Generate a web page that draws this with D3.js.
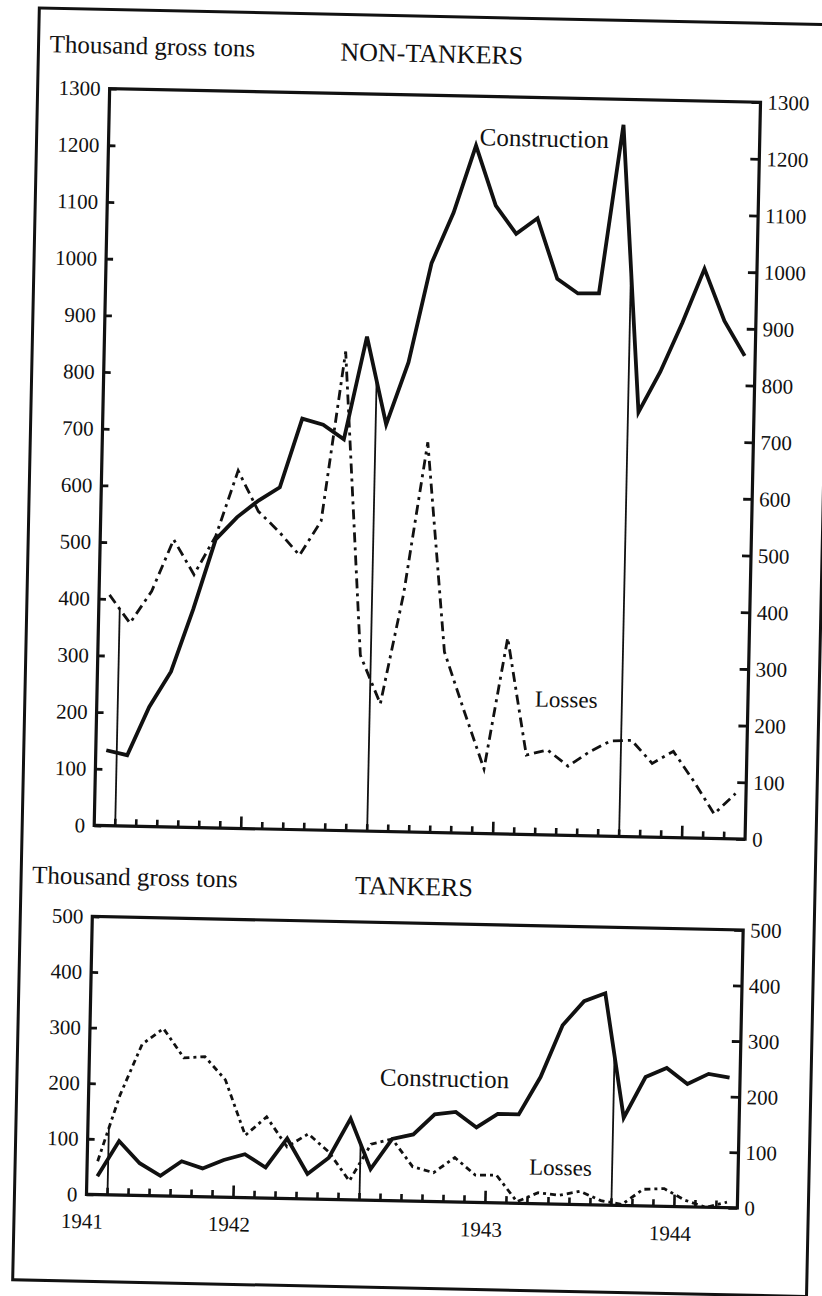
<!DOCTYPE html>
<html>
<head>
<meta charset="utf-8">
<script src="https://cdnjs.cloudflare.com/ajax/libs/d3/7.8.5/d3.min.js"></script>
<style>
    html, body { margin: 0; padding: 0; background: #fff; }
    svg { display: block; }
    text { font-family: "Liberation Serif", "DejaVu Serif", serif; fill: #111; }
</style>
</head>
<body>
<div id="chart"></div>
<script>
// Merchant shipping, construction vs losses, thousand gross tons per month
const months = [
    'Dec 1941',
    'Jan 1942', 'Feb 1942', 'Mar 1942', 'Apr 1942', 'May 1942', 'Jun 1942',
    'Jul 1942', 'Aug 1942', 'Sep 1942', 'Oct 1942', 'Nov 1942', 'Dec 1942',
    'Jan 1943', 'Feb 1943', 'Mar 1943', 'Apr 1943', 'May 1943', 'Jun 1943',
    'Jul 1943', 'Aug 1943', 'Sep 1943', 'Oct 1943', 'Nov 1943', 'Dec 1943',
    'Jan 1944', 'Feb 1944', 'Mar 1944', 'Apr 1944', 'May 1944', 'Jun 1944'
];

const nonTankerConstruction = [133, 125, 211, 274, 385, 509, 549, 579, 603, 725, 715, 690, 872, 718, 828, 1004,
    1094, 1213, 1108, 1059, 1087, 981, 956, 957, 1255, 749, 821, 908, 1004, 913, 852];
const nonTankerLosses = [407, 358, 415, 507, 446, 515, 631, 560, 525, 484, 545, 845, 310, 225, 420, 688,
    319, 215, 114, 346, 140, 150, 122, 148, 168, 170, 130, 152, 100, 43, 80];

const tankerConstruction = [33, 97, 58, 36, 63, 51, 67, 78, 55, 108, 45, 75, 146, 56, 111, 120,
    157, 162, 135, 160, 160, 228, 322, 366, 381, 158, 232, 249, 221, 240, 234];
const tankerLosses = [60, 180, 272, 301, 249, 252, 211, 112, 146, 93, 117, 85, 34, 101, 111, 62,
    52, 80, 49, 50, 3, 20, 16, 24, 8, 2, 30, 32, 12, 0, 10];

const nonTankerTicks = [0, 100, 200, 300, 400, 500, 600, 700, 800, 900, 1000, 1100, 1200, 1300];
const tankerTicks = [0, 100, 200, 300, 400, 500];

const yearLabels = ['1941', '1942', '1943', '1944'];
const yearLabelMonths = ['Dec 1941', 'Jul 1942', 'Jul 1943', 'Apr 1944'];
const yearStartMonths = ['Jan 1942', 'Jan 1943', 'Jan 1944'];

const W = 822, H = 1296;
const serif = '"Liberation Serif", "DejaVu Serif", serif';

const svg = d3.select('#chart').append('svg')
    .attr('width', W)
    .attr('height', H);

// the scanned page sits slightly askew
const page = svg.append('g').attr('transform', 'rotate(1.2 411 648)');

page.append('rect')
    .attr('x', 26).attr('y', 16)
    .attr('width', 794).attr('height', 1272)
    .attr('fill', 'none')
    .attr('stroke', '#111')
    .attr('stroke-width', 3);

const x = d3.scaleBand().domain(months).range([98, 749]);
const mid = m => x(m) + x.bandwidth() / 2;

function drawPanel(p) {
    const y = d3.scaleLinear().domain([0, p.yMax]).range([p.bottom, p.top]);
    const g = page.append('g');

    g.append('text')
        .attr('x', 37).attr('y', p.captionY)
        .attr('font-size', 25)
        .text('Thousand gross tons');

    g.append('text')
        .attr('x', p.titleX).attr('y', p.titleY)
        .attr('font-size', 26)
        .text(p.title);

    // left and right value axes, ticks pointing inward
    const left = g.append('g')
        .attr('transform', `translate(${x.range()[0]},0)`)
        .call(d3.axisLeft(y).tickValues(p.ticks).tickSize(-7).tickPadding(9).tickFormat(d3.format('d')));
    const right = g.append('g')
        .attr('transform', `translate(${x.range()[1]},0)`)
        .call(d3.axisRight(y).tickValues(p.ticks).tickSize(-9).tickPadding(7).tickFormat(d3.format('d')));

    [left, right].forEach(a => {
        a.attr('font-family', serif).attr('font-size', 21);
        a.select('.domain').remove();
        a.selectAll('.tick line').attr('stroke', '#111').attr('stroke-width', 2.8);
        a.selectAll('.tick text').attr('fill', '#111');
    });

    // frame
    g.append('rect')
        .attr('x', x.range()[0]).attr('y', p.top)
        .attr('width', x.range()[1] - x.range()[0])
        .attr('height', p.bottom - p.top)
        .attr('fill', 'none')
        .attr('stroke', '#111')
        .attr('stroke-width', 3.2);

    // month ticks rising from the base line
    g.append('g').selectAll('line')
        .data(months.slice(1))
        .enter().append('line')
        .attr('x1', d => x(d)).attr('x2', d => x(d))
        .attr('y1', y(0))
        .attr('y2', d => y(0) - (yearLabelMonths.includes(d) ? 12 : 7))
        .attr('stroke', '#111')
        .attr('stroke-width', 2.6);

    // thin year-boundary lines up to the higher of the two curves
    g.append('g').selectAll('line')
        .data(yearStartMonths)
        .enter().append('line')
        .attr('x1', d => x(d)).attr('x2', d => x(d))
        .attr('y1', y(0))
        .attr('y2', d => {
            const i = months.indexOf(d);
            const c = (p.construction[i - 1] + p.construction[i]) / 2;
            const l = (p.losses[i - 1] + p.losses[i]) / 2;
            return y(Math.max(c, l));
        })
        .attr('stroke', '#111')
        .attr('stroke-width', 1.8);

    const line = d3.line()
        .x((d, i) => mid(months[i]))
        .y(d => y(d));

    g.append('path')
        .datum(p.losses)
        .attr('d', line)
        .attr('fill', 'none')
        .attr('stroke', '#111')
        .attr('stroke-width', 2.8)
        .attr('stroke-dasharray', p.lossDash);

    g.append('path')
        .datum(p.construction)
        .attr('d', line)
        .attr('fill', 'none')
        .attr('stroke', '#111')
        .attr('stroke-width', 3.8)
        .attr('stroke-linejoin', 'miter');

    g.append('text')
        .attr('x', p.constructionLabel[0]).attr('y', p.constructionLabel[1])
        .attr('font-size', 25)
        .text('Construction');

    g.append('text')
        .attr('x', p.lossesLabel[0]).attr('y', p.lossesLabel[1])
        .attr('font-size', 23)
        .text('Losses');

    return y;
}

drawPanel({
    title: 'NON-TANKERS',
    yMax: 1300,
    ticks: nonTankerTicks,
    top: 95,
    bottom: 832,
    captionY: 60,
    titleX: 328,
    titleY: 62,
    construction: nonTankerConstruction,
    losses: nonTankerLosses,
    lossDash: '10,5,3,5',
    constructionLabel: [469, 144],
    lossesLabel: [536, 704]
});

drawPanel({
    title: 'TANKERS',
    yMax: 500,
    ticks: tankerTicks,
    top: 923,
    bottom: 1201,
    captionY: 891,
    titleX: 360,
    titleY: 895,
    construction: tankerConstruction,
    losses: tankerLosses,
    lossDash: '6,4,3,4',
    constructionLabel: [389, 1086],
    lossesLabel: [540, 1172]
});

page.append('g').selectAll('text')
    .data(yearLabels)
    .enter().append('text')
    .attr('x', (d, i) => x(yearLabelMonths[i]) - 4)
    .attr('y', 1235)
    .attr('text-anchor', 'middle')
    .attr('font-size', 21)
    .text(d => d);
</script>
</body>
</html>
